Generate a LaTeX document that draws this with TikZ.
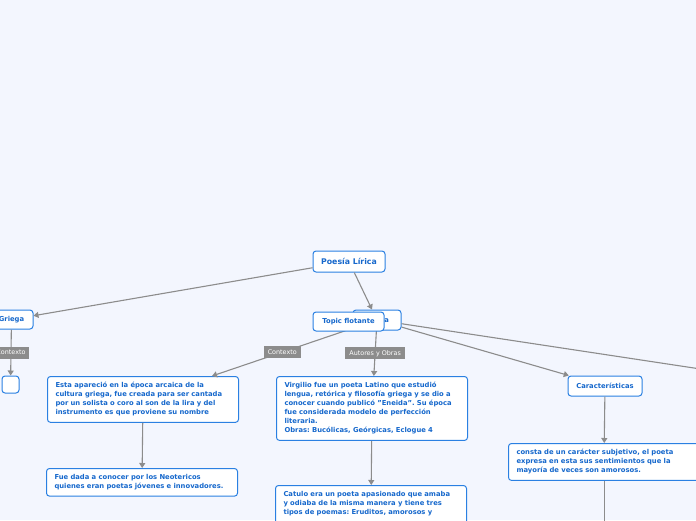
\documentclass[tikz,border=0pt]{standalone}
\usepackage{fontspec}
\setmainfont{DejaVu Sans}
\usepackage{xcolor}
\usepackage{tikz}
\usetikzlibrary{arrows.meta}

\definecolor{paper}{HTML}{F3F6FE}
\definecolor{topicblue}{HTML}{2A80E2}
\definecolor{topictext}{HTML}{1668CC}
\definecolor{linkgray}{HTML}{8C8C8C}

\tikzset{
  topic/.style={draw=topicblue, line width=1pt, fill=white, rounded corners=3pt,
    text=topictext, font=\fontsize{6.8}{9}\selectfont\bfseries\frenchspacing, inner sep=0pt, minimum height=20pt},
  textbox/.style={topic, anchor=north west, align=left, text width=#1, inner xsep=8pt, inner ysep=6pt},
  plain/.style={draw=linkgray, line width=1.1pt},
  link/.style={plain, -{Triangle[length=5pt,width=6pt]}},
  tag/.style={fill=linkgray, text=white, font=\fontsize{6.4}{7}\selectfont,
    inner xsep=4pt, inner ysep=0pt, minimum height=12pt}
}

\begin{document}
\begin{tikzpicture}[x=1pt, y=-1pt]
% Background
\fill[paper] (0,0) rectangle (696,520);
\useasboundingbox (0,0) rectangle (696,520);

% Central topic
\node[topic, minimum width=72pt, minimum height=21pt, font=\fontsize{7.8}{9}\selectfont\bfseries] (poesia) at (349,261.5) {Poesía Lírica};

% Main branches
\node[topic, minimum width=43pt, minimum height=19pt] (griega) at (11.5,319.5) {Griega};
\node[topic, minimum width=48pt] (latina) at (377,320) {Latina};
\node[topic, minimum size=17pt] (vacio) at (10.5,384.5) {};
\node[topic, minimum width=74pt] (caract) at (605,386) {Características};
\coordinate (fuera) at (760,378);

% Detail boxes
\node[textbox=175pt] (esta) at (47,376) {Esta apareció en la época arcaica de la\\ cultura griega, fue creada para ser cantada\\ por un solista o coro al son de la lira y del\\ instrumento es que proviene su nombre};
\node[textbox=175pt] (fue) at (46,468) {Fue dada a conocer por los Neotericos\\ quienes eran poetas jóvenes e innovadores.};
\node[textbox=175pt] (virgilio) at (276,376) {Virgilio fue un poeta Latino que estudió\\ lengua, retórica y filosofía griega y se dio a\\ conocer cuando publicó "Eneida". Su época\\ fue considerada modelo de perfección\\ literaria.\\ Obras: Bucólicas, Geórgicas, Eclogue 4};
\node[textbox=175pt] (catulo) at (275,485) {Catulo era un poeta apasionado que amaba\\ y odiaba de la misma manera y tiene tres\\ tipos de poemas: Eruditos, amorosos y\\ \mbox{}};
\node[textbox=175pt] (consta) at (508,443) {consta de un carácter subjetivo, el poeta\\ expresa en esta sus sentimientos que la\\ mayoría de veces son amorosos.};
\coordinate (abajo) at (604.5,530);

% Connectors
\draw[link] (poesia) -- (griega);
\draw[link] (poesia) -- (latina);
\draw[link] (griega) -- node[tag] {Contexto} (vacio);
\draw[link] (latina) -- node[tag] {Contexto} (esta);
\draw[link] (latina) -- node[tag] {Autores y Obras} (virgilio);
\draw[link] (latina) -- (caract);
\draw[plain] (latina) -- (fuera);
\draw[link] (esta) -- (fue);
\draw[link] (virgilio) -- (catulo);
\draw[link] (caract) -- (consta);
\draw[plain] (consta.south -| abajo) -- (abajo);

% Floating topic on top
\node[topic, minimum width=71pt, minimum height=19pt] (flotante) at (348.5,321.5) {Topic flotante};

\end{tikzpicture}
\end{document}
